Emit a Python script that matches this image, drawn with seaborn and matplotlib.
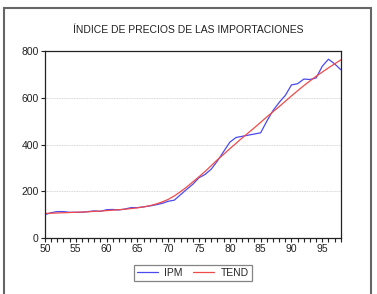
import pandas as pd
import numpy as np
import matplotlib.pyplot as plt
import seaborn as sns
from matplotlib.patches import Rectangle
from matplotlib.ticker import MultipleLocator

# Years (two digits, as on the axis)
years = list(range(50, 99))

# Import price index
ipm = [100, 108, 113, 113, 110, 110, 110, 113, 116, 114,
       121, 122, 120, 124, 130, 130, 133, 137, 142, 148,
       157, 162, 185, 208, 230, 258, 272, 295, 330, 370,
       410, 430, 435, 440, 445, 450, 500, 545, 580, 610,
       655, 660, 680, 678, 685, 735, 765, 745, 720]

# Fitted trend
tend = [105, 106, 107, 108, 109, 110, 111, 112, 114, 115,
        117, 119, 121, 123, 126, 129, 133, 138, 145, 154,
        165, 180, 198, 218, 240, 262, 285, 310, 335, 358,
        382, 405, 428, 450, 472, 495, 518, 540, 562, 585,
        608, 630, 652, 672, 692, 710, 728, 745, 762]

df = pd.DataFrame({'year': years * 2,
                   'value': ipm + tend,
                   'serie': ['IPM'] * len(years) + ['TEND'] * len(years)})

sns.set_style('white')
plt.rcParams['font.family'] = ['Liberation Sans', 'DejaVu Sans']

fig = plt.figure(figsize=(3.77, 2.94), dpi=100)
ax = fig.add_axes([0.119, 0.1905, 0.785, 0.636])

sns.lineplot(data=df, x='year', y='value', hue='serie',
             palette={'IPM': '#4a4af0', 'TEND': '#f04a4a'},
             linewidth=0.9, ax=ax, legend=False)

ax.set_xlim(50, 98)
ax.set_ylim(0, 800)
ax.set_yticks([0, 200, 400, 600, 800])
ax.xaxis.set_major_locator(MultipleLocator(5))
ax.xaxis.set_minor_locator(MultipleLocator(1))
ax.tick_params(axis='both', which='major', labelsize=7.5, length=3, width=0.8,
               direction='out', pad=1.5, colors='#222222', bottom=True, left=True)
ax.tick_params(axis='x', which='minor', length=3, width=0.8, bottom=True, color='#222222')
ax.set_xlabel('')
ax.set_ylabel('')
for y in [200, 400, 600]:
    ax.axhline(y, color='#c8c8c8', linestyle=(0, (1, 1)), linewidth=0.6, zorder=0)
for s in ax.spines.values():
    s.set_color('#222222')
    s.set_linewidth(0.9)

fig.text(0.5, 1 - 30 / 294, 'ÍNDICE DE PRECIOS DE LAS IMPORTACIONES',
         ha='center', va='center', fontsize=7.5, color='#222222')

handles = [plt.Line2D([], [], color='#4a4af0', linewidth=0.9),
           plt.Line2D([], [], color='#f04a4a', linewidth=0.9)]
leg = fig.legend(handles, ['IPM', 'TEND'], loc='center',
                 bbox_to_anchor=(193 / 377, 1 - 273 / 294), ncol=2,
                 fontsize=7.5, frameon=True, fancybox=False,
                 edgecolor='#666666', borderpad=0.3, handlelength=2.0,
                 columnspacing=1.0, handletextpad=0.6)
leg.get_frame().set_linewidth(0.9)

# grey frame around the whole picture
fig.patches.append(Rectangle((4 / 377, -0.05), 367 / 377, 1 - 8 / 294 + 0.05,
                             transform=fig.transFigure, fill=False,
                             edgecolor='#666666', linewidth=1.5))

fig.savefig('out.png', dpi=100)
